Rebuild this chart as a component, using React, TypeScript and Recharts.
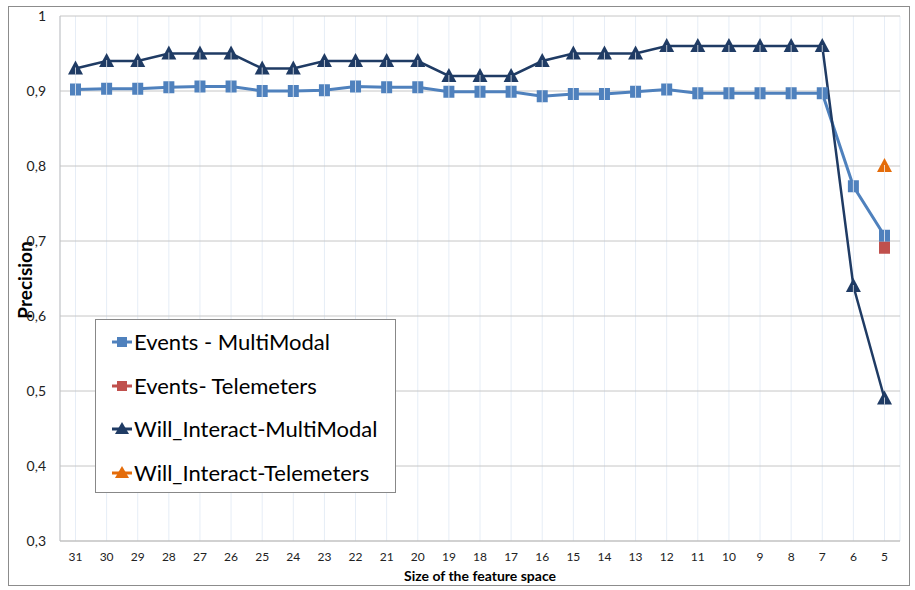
import React from 'react';
import { LineChart, Line, XAxis, YAxis, CartesianGrid, Label } from 'recharts';

const sizes = ['31','30','29','28','27','26','25','24','23','22','21','20','19','18','17','16','15','14','13','12','11','10','9','8','7','6','5'];
const eventsMM = [0.902,0.903,0.903,0.905,0.906,0.906,0.900,0.900,0.901,0.906,0.905,0.905,0.899,0.899,0.899,0.893,0.896,0.896,0.899,0.902,0.897,0.897,0.897,0.897,0.897,0.773,0.707];
const eventsTel = [null,null,null,null,null,null,null,null,null,null,null,null,null,null,null,null,null,null,null,null,null,null,null,null,null,null,0.691];
const willMM = [0.93,0.94,0.94,0.95,0.95,0.95,0.93,0.93,0.94,0.94,0.94,0.94,0.92,0.92,0.92,0.94,0.95,0.95,0.95,0.96,0.96,0.96,0.96,0.96,0.96,0.64,0.49];
const willTel = [null,null,null,null,null,null,null,null,null,null,null,null,null,null,null,null,null,null,null,null,null,null,null,null,null,null,0.80];
const yTicks = [0.3,0.4,0.5,0.6,0.7,0.8,0.9,1];

const seriesNames = ['Events - MultiModal','Events- Telemeters','Will_Interact-MultiModal','Will_Interact-Telemeters'];
const seriesColors = ['#4F81BD','#C0504D','#1F3B64','#E46C0A'];
const seriesShapes = ['square','square','triangle','triangle'];

const data = sizes.map((s, i) => ({ size: s, em: eventsMM[i], et: eventsTel[i], wm: willMM[i], wt: willTel[i] }));

const FONT = 'Lato, "Open Sans", sans-serif';

const squareDot = (color: string, line: boolean) => (props: any) => {
  const { cx, cy, value, index } = props;
  if (value == null || cx == null || cy == null) return <g key={index} />;
  return (
    <g key={index}>
      <rect x={cx - 5.5} y={cy - 6} width={11} height={12} fill={color} />
      {line && <line x1={cx} y1={cy - 6} x2={cx} y2={cy + 6} stroke="#ffffff" strokeOpacity={0.7} strokeWidth={1} />}
    </g>
  );
};

const triDot = (color: string, line: boolean) => (props: any) => {
  const { cx, cy, value, index } = props;
  if (value == null || cx == null || cy == null) return <g key={index} />;
  return (
    <g key={index}>
      <path d={`M${cx},${cy - 8} L${cx + 7.5},${cy + 6} L${cx - 7.5},${cy + 6} Z`} fill={color} />
      {line && <line x1={cx} y1={cy - 1} x2={cx} y2={cy + 6} stroke="#ffffff" strokeOpacity={0.7} strokeWidth={1} />}
    </g>
  );
};

const LegendBox = () => (
  <div style={{ width: 301, height: 174, border: '1px solid #888', background: '#fff', boxSizing: 'border-box', fontFamily: FONT, position: 'relative' }}>
    {seriesNames.map((n, i) => (
      <div key={n} style={{ position: 'absolute', left: 15, top: 9 + i * 43.7, height: 26, display: 'flex', alignItems: 'center' }}>
        <svg width={22} height={20} style={{ marginRight: 1 }}>
          <line x1={1} y1={10} x2={21} y2={10} stroke={seriesColors[i]} strokeWidth={3} />
          {seriesShapes[i] === 'square'
            ? <rect x={6} y={5} width={10} height={10} fill={seriesColors[i]} />
            : <path d="M11,3 L18,15 L4,15 Z" fill={seriesColors[i]} />}
        </svg>
        <span style={{ fontSize: 22, color: '#000', lineHeight: '26px', whiteSpace: 'nowrap' }}>{n}</span>
      </div>
    ))}
  </div>
);

export default function App() {
  return (
    <div style={{ position: 'absolute', left: 0, top: 0, width: 915, height: 590, background: '#fff' }}>
      <div style={{ position: 'absolute', left: 8, top: 6, width: 902, height: 580, border: '1.5px solid #8c8c8c', boxSizing: 'border-box' }} />
      <div style={{ position: 'absolute', left: 0, top: 0 }}>
        <LineChart width={915} height={590} data={data} margin={{ top: 16, right: 15, bottom: 9, left: 0 }}>
          <CartesianGrid vertical={true} horizontal={false} stroke="#E6EDF6" strokeWidth={1} />
          <CartesianGrid vertical={false} horizontal={true} stroke="#C6C6C6" strokeWidth={1} />
          <XAxis dataKey="size" height={40} tickSize={0} tickMargin={11} axisLine={{ stroke: '#BFBFBF' }} tickLine={false}
            padding={{ left: 15.5, right: 15.5 }}
            tick={{ fontSize: 12, fill: '#222', fontFamily: FONT }} interval={0}>
            <Label content={() => (
              <text x={480} y={581} textAnchor="middle" fontSize={14} fontWeight="bold" fontFamily={FONT} fill="#000">Size of the feature space</text>
            )} />
          </XAxis>
          <YAxis width={60} domain={[0.3, 1]} ticks={yTicks} type="number" tickSize={0} tickMargin={14}
            axisLine={{ stroke: '#BFBFBF' }} tickLine={false} allowDataOverflow
            tick={{ fontSize: 14, fill: '#222', fontFamily: FONT }}
            tickFormatter={(v: number) => (v === 1 ? '1' : v.toFixed(1).replace('.', ','))}>
            <Label content={() => (
              <text x={0} y={0} transform="translate(32,280) rotate(-90)" textAnchor="middle" fontSize={19} fontWeight="bold" fontFamily={FONT} fill="#000">Precision</text>
            )} />
          </YAxis>
          <Line type="linear" dataKey="em" name={seriesNames[0]} stroke={seriesColors[0]} strokeWidth={3} dot={squareDot(seriesColors[0], true)} isAnimationActive={false} />
          <Line type="linear" dataKey="et" name={seriesNames[1]} stroke={seriesColors[1]} strokeWidth={3} dot={squareDot(seriesColors[1], false)} isAnimationActive={false} />
          <Line type="linear" dataKey="wm" name={seriesNames[2]} stroke={seriesColors[2]} strokeWidth={2.5} dot={triDot(seriesColors[2], true)} isAnimationActive={false} />
          <Line type="linear" dataKey="wt" name={seriesNames[3]} stroke={seriesColors[3]} strokeWidth={2.5} dot={triDot(seriesColors[3], true)} isAnimationActive={false} />
        </LineChart>
      </div>
      <div style={{ position: 'absolute', left: 95, top: 319 }}>
        <LegendBox />
      </div>
    </div>
  );
}
